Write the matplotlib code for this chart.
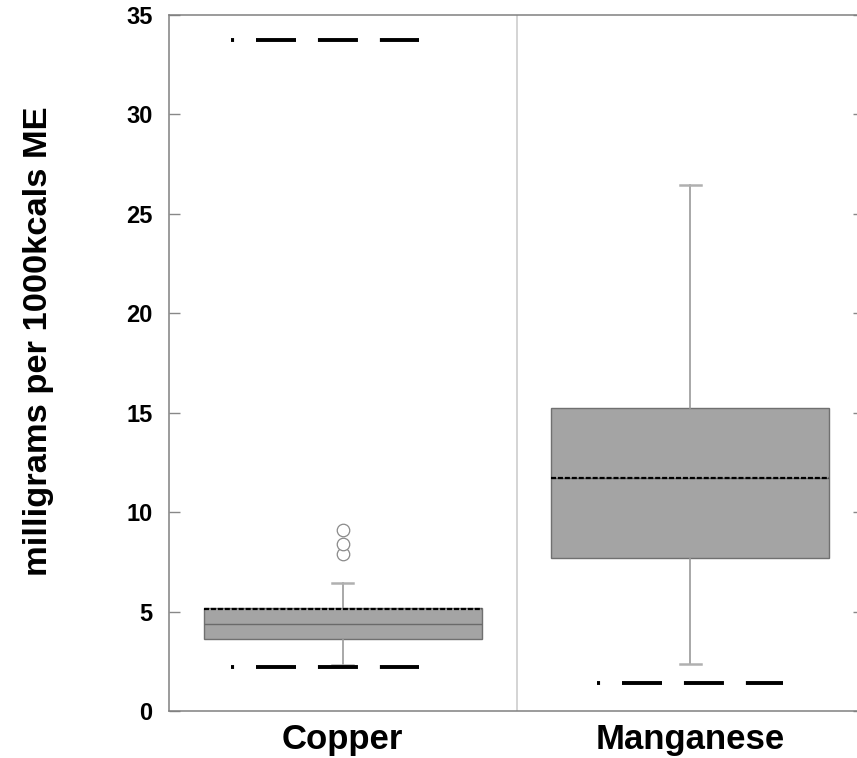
import matplotlib
matplotlib.use("Agg")
import matplotlib.pyplot as plt

plt.rcParams['font.family'] = ['Liberation Sans', 'DejaVu Sans']
plt.rcParams['lines.scale_dashes'] = False

# ---- data ----
categories = ["Copper", "Manganese"]
q1 = [3.62, 7.69]
median = [4.37, 11.72]
q3 = [5.18, 15.24]
mean = [5.13, 11.72]
whisker_low = [2.30, 2.36]
whisker_high = [6.44, 26.45]
copper_outliers = [7.90, 8.40, 9.10]
manganese_outliers = []
# reference (dashed) levels per category
copper_refs = [2.2, 33.75]
manganese_refs = [1.4]
yticks = [0, 5, 10, 15, 20, 25, 30, 35]
ylabel = "milligrams per 1000kcals ME"

# ---- figure ----
W, H = 857, 758
fig = plt.figure(figsize=(W / 100, H / 100), dpi=100)
L, R, T, B = 169, 864, 15, 711
ax = fig.add_axes([L / W, 1 - B / H, (R - L) / W, (B - T) / H])

fliers = [copper_outliers, manganese_outliers]
stats = []
for i, name in enumerate(categories):
    stats.append(dict(label=name, q1=q1[i], med=median[i], q3=q3[i], mean=mean[i],
                      whislo=whisker_low[i], whishi=whisker_high[i], fliers=fliers[i]))

positions = list(range(len(categories)))
ax.bxp(stats, positions=positions, widths=0.80, patch_artist=True,
       showmeans=True, meanline=True, capwidths=0.06,
       boxprops=dict(facecolor='#a4a4a4', edgecolor='#707070', linewidth=1.0),
       medianprops=dict(color='#6a6a6a', linewidth=1.0),
       meanprops=dict(color='black', linewidth=1.6, linestyle=(0, (3.6, 1.4))),
       whiskerprops=dict(color='#9a9a9a', linewidth=1.2),
       capprops=dict(color='#b0b0b0', linewidth=1.8),
       flierprops=dict(marker='o', markerfacecolor='white', markeredgecolor='#8a8a8a',
                       markersize=9, markeredgewidth=0.9))

# reference (dashed) lines
ref_style = dict(color='black', linewidth=2.8, solid_capstyle='butt', dash_capstyle='butt',
                 linestyle=(26.6, (28.8, 15.8)))
ref_spans = [(-0.322, 0.219), (-0.268, 0.267)]
for i, refs in enumerate([copper_refs, manganese_refs]):
    for r in refs:
        ax.plot([positions[i] + ref_spans[i][0], positions[i] + ref_spans[i][1]], [r, r], **ref_style)

# panel divider
ax.axvline(0.5, color='#d4d4d4', linewidth=1.4, zorder=0)

ax.set_xlim(-0.5, 1.5)
ax.set_ylim(0, 35)
ax.set_yticks(yticks)
ax.set_yticklabels([str(v) for v in yticks], fontsize=17, fontweight='bold')
ax.set_xticks(positions)
ax.set_xticklabels(categories, fontsize=25, fontweight='bold')
ax.tick_params(axis='x', length=0, pad=9)
ax.tick_params(axis='y', direction='in', length=8, width=1.0, color='#888888',
               right=True, pad=12)

for s in ['left', 'bottom', 'top']:
    ax.spines[s].set_color('#808080')
    ax.spines[s].set_linewidth(1.1)
ax.spines['right'].set_visible(False)

ax.set_ylabel(ylabel, fontsize=24.8, fontweight='bold')
ax.yaxis.set_label_coords(-0.165, 0.532)

fig.savefig("out.png", dpi=100)
